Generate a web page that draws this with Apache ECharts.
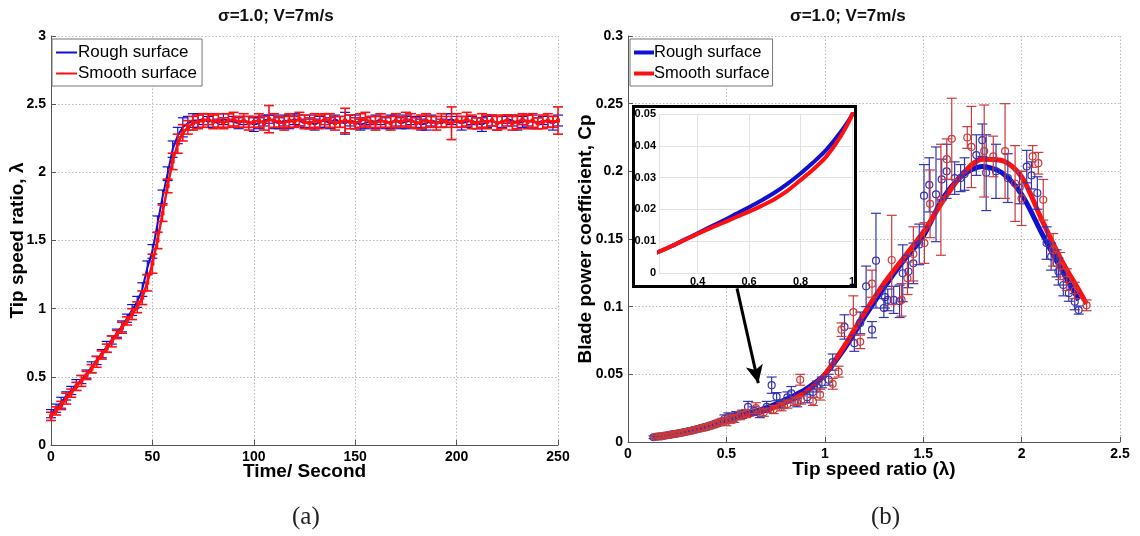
<!DOCTYPE html>
<html>
<head>
<meta charset="utf-8">
<script src="https://cdn.jsdelivr.net/npm/echarts@6/dist/echarts.min.js"></script>
<style>
html,body{margin:0;padding:0;background:#fff;}
#chart{width:1140px;height:536px;}
</style>
</head>
<body>
<div id="chart"></div>
<script>
// ---------- Panel (a): tip speed ratio vs time ----------
const timeSec = [0,2.5,5,7.5,10,12.5,15,17.5,20,22.5,25,27.5,30,32.5,35,37.5,40,42.5,45,47.5,50,52.5,55,57.5,60,62.5,65,67.5,70,
72.5,75,77.5,80,82.5,85,87.5,90,92.5,95,97.5,100,102.5,105,107.5,110,112.5,115,117.5,120,122.5,125,127.5,130,132.5,135,137.5,140,142.5,145,147.5,150,152.5,155,157.5,160,162.5,165,167.5,170,172.5,175,177.5,180,182.5,185,187.5,190,192.5,195,197.5,200,202.5,205,207.5,210,212.5,215,217.5,220,222.5,225,227.5,230,232.5,235,237.5,240,242.5,245,247.5,250];

const roughTsr = [0.23,0.27,0.31,0.36,0.40,0.44,0.48,0.52,0.57,0.62,0.67,0.72,0.77,0.82,0.87,0.93,0.99,1.05,1.14,1.30,1.42,1.62,1.82,1.99,2.17,2.27,2.33,2.36,2.38,
2.38,2.39,2.37,2.38,2.36,2.39,2.38,2.37,2.36,2.38,
2.37,2.35,2.36,2.38,2.39,2.37,2.36,2.38,2.37,2.39,
2.38,2.36,2.37,2.35,2.37,2.38,2.36,2.39,2.37,2.36,
2.38,2.37,2.35,2.36,2.38,2.37,2.39,2.36,2.37,2.38,
2.36,2.37,2.38,2.37,2.35,2.36,2.38,2.37,2.36,2.38,
2.39,2.37,2.36,2.37,2.38,2.36,2.35,2.37,2.38,2.36,
2.37,2.39,2.38,2.36,2.37,2.38,2.37,2.36,2.38,2.37,
2.36,2.38];
const roughTsrErr = [0.03,0.03,0.04,0.03,0.03,0.04,0.03,0.03,0.04,0.03,0.03,0.04,0.03,0.03,0.04,0.03,0.04,0.04,0.05,0.05,0.05,0.06,0.05,0.05,0.06,0.06,0.07,0.05,0.05,
0.05,0.04,0.04,0.05,0.03,0.04,0.05,0.04,0.04,0.03,
0.04,0.05,0.04,0.04,0.03,0.05,0.04,0.04,0.05,0.04,
0.04,0.03,0.05,0.04,0.04,0.05,0.04,0.03,0.04,0.08,
0.04,0.05,0.04,0.04,0.03,0.05,0.04,0.04,0.05,0.04,
0.04,0.05,0.03,0.04,0.04,0.05,0.04,0.04,0.03,0.05,
0.04,0.04,0.05,0.04,0.03,0.04,0.05,0.04,0.04,0.05,
0.04,0.03,0.04,0.05,0.04,0.04,0.05,0.04,0.03,0.04,
0.05,0.04];

const smoothTsr = [0.21,0.25,0.29,0.34,0.38,0.43,0.47,0.51,0.56,0.61,0.66,0.71,0.76,0.81,0.86,0.91,0.96,1.01,1.08,1.19,1.33,1.50,1.70,1.90,2.08,2.21,2.29,2.33,2.36,
2.37,2.38,2.39,2.37,2.38,2.36,2.38,2.39,2.37,2.38,
2.36,2.37,2.38,2.36,2.39,2.38,2.37,2.36,2.38,2.37,
2.39,2.37,2.36,2.38,2.37,2.39,2.38,2.36,2.37,2.38,
2.37,2.36,2.38,2.39,2.37,2.36,2.38,2.37,2.36,2.38,
2.37,2.39,2.38,2.36,2.37,2.38,2.37,2.36,2.38,2.37,
2.36,2.38,2.37,2.39,2.37,2.36,2.38,2.37,2.38,2.36,
2.37,2.38,2.36,2.37,2.39,2.37,2.38,2.36,2.37,2.38,
2.37,2.38];
const smoothTsrErr = [0.03,0.03,0.03,0.04,0.03,0.03,0.04,0.03,0.03,0.04,0.03,0.03,0.04,0.03,0.04,0.03,0.04,0.04,0.05,0.06,0.07,0.06,0.06,0.05,0.06,0.07,0.06,0.05,0.05,
0.05,0.05,0.04,0.05,0.05,0.04,0.05,0.05,0.04,0.05,
0.05,0.04,0.05,0.05,0.10,0.05,0.04,0.05,0.05,0.04,
0.05,0.05,0.04,0.05,0.05,0.04,0.05,0.05,0.04,0.09,
0.05,0.04,0.05,0.05,0.04,0.05,0.05,0.04,0.05,0.05,
0.04,0.05,0.05,0.04,0.05,0.05,0.04,0.05,0.05,0.04,
0.12,0.05,0.04,0.05,0.05,0.04,0.05,0.05,0.04,0.05,
0.05,0.04,0.05,0.05,0.04,0.05,0.05,0.04,0.05,0.05,
0.04,0.10];

// ---------- Panel (b): Cp vs tip speed ratio ----------
const roughFitX = [0.12,0.2,0.25,0.3,0.35,0.4,0.45,0.5,0.55,0.6,0.65,0.7,0.75,0.8,0.85,0.9,0.95,1.0,1.1,1.2,1.3,1.4,1.5,1.6,1.7,1.8,1.9,2.0,2.1,2.2,2.29];
const roughFitY = [0.0035,0.0052,0.0067,0.0085,0.0105,0.0125,0.0145,0.0165,0.0186,0.0207,0.0229,0.0253,0.0281,0.0313,0.0348,0.0387,0.0437,0.0497,0.069,0.092,0.114,0.134,0.152,0.180,0.197,0.2035,0.199,0.183,0.155,0.128,0.105];
const smoothFitX = [0.12,0.2,0.25,0.3,0.35,0.4,0.45,0.5,0.55,0.6,0.65,0.7,0.75,0.8,0.85,0.9,0.95,1.0,1.1,1.2,1.3,1.4,1.5,1.6,1.7,1.8,1.9,2.0,2.1,2.2,2.3,2.33];
const smoothFitY = [0.0035,0.0052,0.0067,0.0085,0.0104,0.0123,0.0141,0.0158,0.0176,0.0193,0.0212,0.0233,0.0259,0.0292,0.0326,0.0366,0.0422,0.0497,0.071,0.095,0.117,0.136,0.155,0.178,0.198,0.209,0.208,0.196,0.165,0.135,0.110,0.102];

const roughPtX = [0.13,0.15,0.17,0.19,0.21,0.23,0.25,0.27,0.29,0.31,0.33,0.35,0.37,0.39,0.41,0.43,0.45,0.47,0.49,0.51,0.53,0.55,0.58,0.61,0.64,0.67,0.705,0.73,0.755,0.78,0.81,0.83,0.86,0.91,0.94,0.96,0.985,1.02,1.04,1.10,1.15,1.18,1.21,1.24,1.26,1.30,1.306,1.32,1.35,1.38,1.396,1.425,1.45,1.48,1.504,1.531,1.565,1.594,1.619,1.66,1.69,1.71,1.77,1.80,1.82,1.87,1.93,1.99,2.026,2.05,2.08,2.127,2.15,2.178,2.187,2.212,2.24,2.27,2.29];
const roughPtY = [0.0035,0.004,0.0042,0.0048,0.0052,0.0058,0.0062,0.0068,0.0074,0.008,0.0086,0.0094,0.01,0.0108,0.0116,0.0126,0.0136,0.0148,0.017,0.0185,0.018,0.0195,0.0205,0.026,0.023,0.021,0.026,0.042,0.0335,0.028,0.033,0.036,0.029,0.033,0.037,0.041,0.044,0.046,0.059,0.085,0.073,0.088,0.115,0.083,0.134,0.099,0.107,0.105,0.105,0.104,0.1247,0.126,0.132,0.146,0.182,0.19,0.183,0.194,0.2,0.195,0.195,0.198,0.212,0.223,0.199,0.2,0.195,0.188,0.2035,0.197,0.184,0.147,0.137,0.132,0.126,0.116,0.11,0.1037,0.0975];
const roughPtErr = [0.001,0.001,0.001,0.001,0.001,0.001,0.001,0.001,0.0015,0.0015,0.0015,0.0015,0.0015,0.002,0.002,0.002,0.002,0.002,0.003,0.003,0.003,0.003,0.003,0.004,0.003,0.003,0.004,0.006,0.003,0.003,0.004,0.005,0.003,0.004,0.004,0.004,0.004,0.004,0.006,0.009,0.006,0.008,0.015,0.006,0.035,0.007,0.008,0.008,0.010,0.012,0.021,0.012,0.015,0.015,0.023,0.02,0.035,0.015,0.02,0.012,0.01,0.012,0.015,0.012,0.028,0.02,0.018,0.012,0.012,0.01,0.012,0.012,0.01,0.01,0.01,0.008,0.006,0.006,0.003];

const smoothPtX = [0.14,0.16,0.18,0.20,0.22,0.24,0.26,0.28,0.30,0.32,0.34,0.36,0.38,0.40,0.42,0.44,0.46,0.48,0.50,0.52,0.54,0.57,0.60,0.65,0.69,0.74,0.78,0.81,0.85,0.875,0.88,0.94,0.976,1.04,1.07,1.085,1.145,1.18,1.24,1.34,1.39,1.42,1.45,1.506,1.535,1.59,1.62,1.645,1.724,1.745,1.81,1.856,1.916,1.967,2.00,2.056,2.085,2.11,2.16,2.196,2.23,2.27,2.33];
const smoothPtY = [0.0038,0.0041,0.0045,0.005,0.0055,0.006,0.0065,0.0071,0.0077,0.0083,0.009,0.0097,0.0104,0.0112,0.0121,0.013,0.0142,0.0155,0.015,0.0168,0.0175,0.0195,0.021,0.025,0.022,0.024,0.026,0.028,0.03,0.046,0.031,0.03,0.035,0.043,0.052,0.083,0.096,0.074,0.117,0.1345,0.105,0.121,0.139,0.147,0.176,0.179,0.209,0.224,0.225,0.218,0.215,0.211,0.215,0.191,0.18,0.211,0.206,0.179,0.142,0.13,0.12,0.112,0.101];
const smoothPtErr = [0.001,0.001,0.001,0.001,0.001,0.001,0.001,0.0015,0.0015,0.0015,0.0015,0.0015,0.002,0.002,0.002,0.002,0.002,0.002,0.003,0.003,0.003,0.003,0.003,0.004,0.003,0.003,0.003,0.003,0.003,0.004,0.003,0.003,0.004,0.004,0.004,0.005,0.012,0.005,0.010,0.033,0.012,0.012,0.02,0.015,0.025,0.041,0.015,0.03,0.008,0.03,0.034,0.015,0.035,0.028,0.02,0.008,0.008,0.015,0.012,0.01,0.008,0.006,0.004];

// ---------- build ----------
const zip2 = (xs, ys) => xs.map((x, i) => [x, ys[i]]);
const zip3 = (xs, ys, es) => xs.map((x, i) => [x, ys[i], es[i]]);

const BLUE = '#1010d0', RED = '#ff1010';
const BLUE_PT = '#3535b0', RED_PT = '#cc3a3a';
const FONT = '"Liberation Sans", Arial, sans-serif';

function errRender(capHalf, color, lw, circleR) {
  return function (params, api) {
    const x = api.value(0), y = api.value(1), e = api.value(2);
    const t = api.coord([x, y + e]), b = api.coord([x, y - e]), c = api.coord([x, y]);
    const st = { stroke: color, lineWidth: lw, fill: null };
    const kids = [
      { type: 'line', shape: { x1: t[0], y1: t[1], x2: b[0], y2: b[1] }, style: st },
      { type: 'line', shape: { x1: t[0] - capHalf, y1: t[1], x2: t[0] + capHalf, y2: t[1] }, style: st },
      { type: 'line', shape: { x1: b[0] - capHalf, y1: b[1], x2: b[0] + capHalf, y2: b[1] }, style: st }
    ];
    if (circleR) kids.push({ type: 'circle', shape: { cx: c[0], cy: c[1], r: circleR }, style: { stroke: color, lineWidth: 1.2, fill: 'rgba(255,255,255,0)' } });
    return { type: 'group', children: kids };
  };
}

const axisLabelStyle = { color: '#000', fontFamily: FONT, fontWeight: 'bold', fontSize: 14 };
const nameStyle = { color: '#000', fontFamily: FONT, fontWeight: 'bold', fontSize: 19 };
const gridLine = { show: true, lineStyle: { color: '#b8b8b8', type: [1.5, 2], width: 1 } };
const axLine = { show: true, lineStyle: { color: '#555', width: 1 } };
const axTick = { show: true, inside: true, length: 5, lineStyle: { color: '#555' } };

const chart = echarts.init(document.getElementById('chart'), null, { renderer: 'canvas' });

const option = {
  backgroundColor: '#fff',
  animation: false,
  grid: [
    { left: 51, top: 36, width: 507, height: 409 },
    { left: 628, top: 36, width: 492, height: 406 },
    { left: 659, top: 114, width: 193, height: 159 }
  ],
  xAxis: [
    { gridIndex: 0, type: 'value', min: 0, max: 250, interval: 50, name: 'Time/ Second', nameLocation: 'middle', nameGap: 17, nameMoveOverlap: false, nameTextStyle: Object.assign({ verticalAlign: 'top' }, nameStyle),
      axisLine: axLine, axisTick: axTick, splitLine: gridLine, axisLabel: Object.assign({ margin: 5 }, axisLabelStyle) },
    { gridIndex: 1, type: 'value', min: 0, max: 2.5, interval: 0.5, name: 'Tip speed ratio (λ)', nameLocation: 'middle', nameGap: 18, nameMoveOverlap: false, nameTextStyle: Object.assign({ verticalAlign: 'top' }, nameStyle),
      axisLine: axLine, axisTick: axTick, splitLine: gridLine, axisLabel: Object.assign({ margin: 5 }, axisLabelStyle) },
    { gridIndex: 2, type: 'value', min: 0.25, max: 1, splitNumber: 4, z: 21,
      axisLine: { show: false }, axisTick: { show: false },
      splitLine: { show: true, lineStyle: { color: '#e2e2e2', width: 1 } },
      axisLabel: { showMinLabel: false, color: '#000', fontFamily: FONT, fontWeight: 'bold', fontSize: 11, margin: 3 } }
  ],
  yAxis: [
    { gridIndex: 0, type: 'value', min: 0, max: 3, interval: 0.5, name: 'Tip speed ratio, λ', nameLocation: 'middle', nameGap: 24, nameMoveOverlap: false, nameTextStyle: nameStyle,
      axisLine: axLine, axisTick: axTick, splitLine: gridLine, axisLabel: Object.assign({ margin: 5 }, axisLabelStyle) },
    { gridIndex: 1, type: 'value', min: 0, max: 0.3, interval: 0.05, name: 'Blade power coefficient, Cp', nameLocation: 'middle', nameGap: 33, nameMoveOverlap: false, nameTextStyle: nameStyle,
      axisLine: axLine, axisTick: axTick, splitLine: gridLine, axisLabel: Object.assign({ margin: 5 }, axisLabelStyle) },
    { gridIndex: 2, type: 'value', min: 0, max: 0.05, interval: 0.01, z: 21,
      axisLine: { show: false }, axisTick: { show: false },
      splitLine: { show: true, lineStyle: { color: '#e2e2e2', width: 1 } },
      axisLabel: { color: '#000', fontFamily: FONT, fontWeight: 'bold', fontSize: 11, margin: 3 } }
  ],
  legend: [
    { left: 52, top: 39, orient: 'vertical', data: ['Rough surface', 'Smooth surface'], icon: 'rect', itemWidth: 21, itemHeight: 2, itemGap: 4,
      padding: [5, 5, 4, 4], borderColor: '#777', borderWidth: 1, backgroundColor: '#fff', selectedMode: false,
      textStyle: { color: '#000', fontFamily: FONT, fontSize: 17, padding: [0, 0, 0, -4] } },
    { left: 630, top: 39, orient: 'vertical', data: ['Rough surface', 'Smooth surface'], icon: 'rect', itemWidth: 20, itemHeight: 4, itemGap: 4,
      padding: [5, 3, 4, 4], borderColor: '#777', borderWidth: 1, backgroundColor: '#fff', selectedMode: false,
      textStyle: { color: '#000', fontFamily: FONT, fontSize: 16.5, padding: [0, 0, 0, -5] } }
  ],
  graphic: [
    { type: 'text', left: 218, top: 8, style: { text: 'σ=1.0; V=7m/s', font: 'bold 17px ' + FONT, fill: '#111' } },
    { type: 'text', left: 790, top: 8, style: { text: 'σ=1.0; V=7m/s', font: 'bold 17px ' + FONT, fill: '#111' } },
    { type: 'text', left: 292, top: 505, style: { text: '(a)', font: '25px "Liberation Serif", "DejaVu Serif", serif', fill: '#222' } },
    { type: 'text', left: 871, top: 505, style: { text: '(b)', font: '25px "Liberation Serif", "DejaVu Serif", serif', fill: '#222' } },
    { type: 'rect', z: 10, shape: { x: 633.5, y: 106.5, width: 222, height: 180 }, style: { fill: '#fff', stroke: '#000', lineWidth: 3 } }
  ],
  series: [
    { type: 'custom', name: 'rough-err-a', xAxisIndex: 0, yAxisIndex: 0, renderItem: errRender(5, BLUE, 1.2, 0), data: zip3(timeSec, roughTsr, roughTsrErr), z: 2, silent: true },
    { type: 'line', name: 'Rough surface', xAxisIndex: 0, yAxisIndex: 0, data: zip2(timeSec, roughTsr), showSymbol: false, color: BLUE, lineStyle: { color: BLUE, width: 2 }, z: 3, silent: true },
    { type: 'custom', name: 'smooth-err-a', xAxisIndex: 0, yAxisIndex: 0, renderItem: errRender(5, RED, 1.6, 0), data: zip3(timeSec, smoothTsr, smoothTsrErr), z: 4, silent: true },
    { type: 'line', name: 'Smooth surface', xAxisIndex: 0, yAxisIndex: 0, data: zip2(timeSec, smoothTsr), symbol: 'rect', symbolSize: 4, showSymbol: true, color: RED, itemStyle: { color: RED }, lineStyle: { color: RED, width: 2.5 }, z: 5, silent: true },

    { type: 'line', name: 'Rough surface', xAxisIndex: 1, yAxisIndex: 1, data: zip2(roughFitX, roughFitY), smooth: 0.3, showSymbol: false, color: BLUE, lineStyle: { color: BLUE, width: 5 }, z: 3, silent: true },
    { type: 'line', name: 'Smooth surface', xAxisIndex: 1, yAxisIndex: 1, data: zip2(smoothFitX, smoothFitY), smooth: 0.3, showSymbol: false, color: RED, lineStyle: { color: RED, width: 5 }, z: 4, silent: true,
      markLine: { silent: true, symbol: ['none', 'arrow'], symbolSize: [13, 18], label: { show: false }, lineStyle: { color: '#000', width: 3, type: 'solid' },
        data: [[{ coord: [0.554, 0.1135] }, { coord: [0.662, 0.0435] }]] } },
    { type: 'custom', name: 'rough-err-b', xAxisIndex: 1, yAxisIndex: 1, renderItem: errRender(5, BLUE_PT, 1.2, 3.5), data: zip3(roughPtX, roughPtY, roughPtErr), z: 5, silent: true },
    { type: 'custom', name: 'smooth-err-b', xAxisIndex: 1, yAxisIndex: 1, renderItem: errRender(5, RED_PT, 1.2, 3.5), data: zip3(smoothPtX, smoothPtY, smoothPtErr), z: 5, silent: true },

    { type: 'line', name: 'rough-inset', xAxisIndex: 2, yAxisIndex: 2, data: zip2(roughFitX, roughFitY), smooth: 0.3, showSymbol: false, lineStyle: { color: BLUE, width: 4 }, z: 22, silent: true, clip: true },
    { type: 'line', name: 'smooth-inset', xAxisIndex: 2, yAxisIndex: 2, data: zip2(smoothFitX, smoothFitY), smooth: 0.3, showSymbol: false, lineStyle: { color: RED, width: 4 }, z: 23, silent: true, clip: true }
  ]
};
chart.setOption(option);
</script>
</body>
</html>
